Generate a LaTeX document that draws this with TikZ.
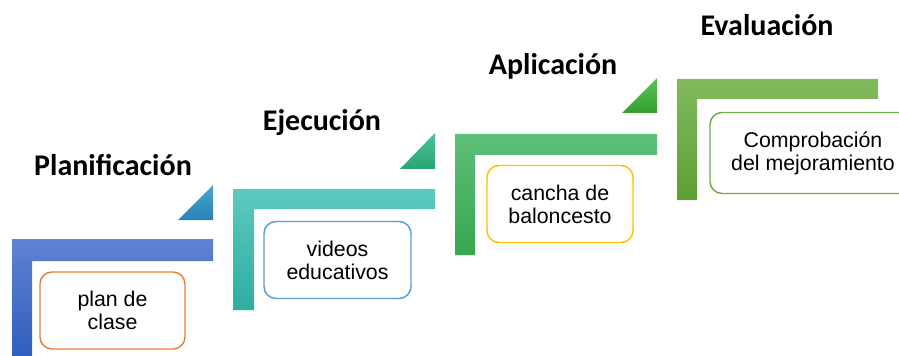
\documentclass[tikz,border=0pt]{standalone}
\usepackage{fontspec}
\setmainfont{Liberation Sans}
\newfontfamily\titlefont{Carlito}

\definecolor{stepA}{RGB}{96,130,210}
\definecolor{stepAdark}{RGB}{47,95,190}
\definecolor{stepB}{RGB}{93,200,192}
\definecolor{stepBdark}{RGB}{44,174,160}
\definecolor{stepC}{RGB}{93,192,121}
\definecolor{stepCdark}{RGB}{56,165,80}
\definecolor{stepD}{RGB}{130,186,92}
\definecolor{stepDdark}{RGB}{94,158,55}
\definecolor{triA}{RGB}{75,165,205}
\definecolor{triAdark}{RGB}{40,130,180}
\definecolor{triB}{RGB}{75,195,145}
\definecolor{triBdark}{RGB}{40,165,115}
\definecolor{triC}{RGB}{95,195,85}
\definecolor{triCdark}{RGB}{50,160,45}
\definecolor{edgeA}{RGB}{237,125,49}
\definecolor{edgeB}{RGB}{91,155,213}
\definecolor{edgeC}{RGB}{255,192,0}
\definecolor{edgeD}{RGB}{112,173,71}

\tikzset{every picture/.style={line width=0.75pt}}
\tikzset{
  steptitle/.style={font=\titlefont\bfseries\fontsize{22.5}{26}\selectfont, inner sep=0.75pt},
  stepbox/.style={draw, line width=1.1pt, rounded corners=9pt, fill=white, align=center,
    minimum height=57.75pt, font=\fontsize{16}{17.25}\selectfont}
}

\begin{document}
\begin{tikzpicture}[x=0.75pt,y=0.75pt,yscale=-1,xscale=1]
    \useasboundingbox (0,0) rectangle (899,356);
    \clip (0,0) rectangle (899,356);

    %Shape: L bar [Planificación]
    \shade [top color=stepA, bottom color=stepAdark] (12,239) -- (213,239) -- (213,261) -- (32,261) -- (32,356) -- (12,356) -- cycle ;
    %Shape: Triangle
    \shade [top color=triA, bottom color=triAdark] (178,220) -- (213,220) -- (213,185) -- cycle ;
    %Shape: L bar [Ejecución]
    \shade [top color=stepB, bottom color=stepBdark] (233,189) -- (435,189) -- (435,209) -- (254,209) -- (254,310) -- (233,310) -- cycle ;
    %Shape: Triangle
    \shade [top color=triB, bottom color=triBdark] (400,169) -- (435,169) -- (435,133) -- cycle ;
    %Shape: L bar [Aplicación]
    \shade [top color=stepC, bottom color=stepCdark] (455,134) -- (657,134) -- (657,155) -- (475,155) -- (475,255) -- (455,255) -- cycle ;
    %Shape: Triangle
    \shade [top color=triC, bottom color=triCdark] (622,113) -- (657,113) -- (657,78) -- cycle ;
    %Shape: L bar [Evaluación]
    \shade [top color=stepD, bottom color=stepDdark] (677,79) -- (878,79) -- (878,99) -- (697,99) -- (697,200) -- (677,200) -- cycle ;

    % Text Node
    \node [steptitle] (planif) at (113,165) {Planificación};
    % Text Node
    \node [steptitle] (ejec) at (322,123) {Ejecución};
    % Text Node
    \node [steptitle] (aplic) at (553,66) {Aplicación};
    % Text Node
    \node [steptitle] (evalu) at (767,25) {Evaluación};

    % Text Node
    \node [stepbox, draw=edgeA, minimum width=108.75pt] (plan) at (112.5,310.5) {plan de\\clase};
    % Text Node
    \node [stepbox, draw=edgeB, minimum width=110.25pt] (videos) at (337.5,260) {videos\\educativos};
    % Text Node
    \node [stepbox, draw=edgeC, minimum width=109.5pt] (cancha) at (560,204) {cancha de\\baloncesto};
    % Text Node
    \node [stepbox, draw=edgeD, minimum width=154.5pt, minimum height=60.75pt] (comprob) at (813,153) {Comprobación\\del mejoramiento};

\end{tikzpicture}
\end{document}
